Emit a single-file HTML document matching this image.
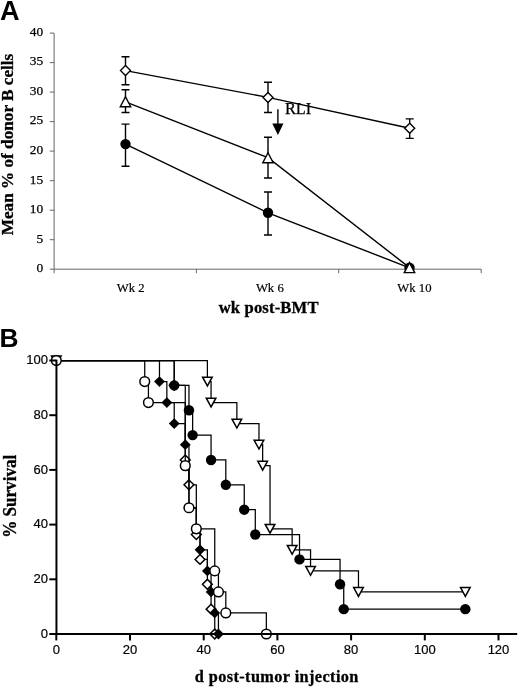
<!DOCTYPE html>
<html><head><meta charset="utf-8"><style>
html,body{margin:0;padding:0;background:#fff;}
body{width:520px;height:687px;overflow:hidden;font-family:"Liberation Serif",serif;}
svg{display:block;will-change:transform;}
</style></head><body>
<svg width="520" height="687" viewBox="0 0 520 687">
<g stroke="#666" stroke-width="1" fill="none">
<path d="M54.1 33.1 V269.2"/>
<path d="M49.8 269.2 H54.1"/>
<path d="M49.8 239.7 H54.1"/>
<path d="M49.8 210.2 H54.1"/>
<path d="M49.8 180.7 H54.1"/>
<path d="M49.8 151.1 H54.1"/>
<path d="M49.8 121.6 H54.1"/>
<path d="M49.8 92.1 H54.1"/>
<path d="M49.8 62.6 H54.1"/>
<path d="M49.8 33.1 H54.1"/>
<path d="M54.1 269.2 H481.2"/>
<path d="M54.1 269.2 V273.2"/>
<path d="M196.4 269.2 V273.2"/>
<path d="M338.7 269.2 V273.2"/>
<path d="M481.2 269.2 V273.2"/>
</g>
<g font-family="'Liberation Serif', serif" font-size="13.4" text-anchor="end" fill="#000" stroke="#000" stroke-width="0.25">
<text x="43.2" y="272.0">0</text>
<text x="43.2" y="242.5">5</text>
<text x="43.2" y="213.0">10</text>
<text x="43.2" y="183.5">15</text>
<text x="43.2" y="153.9">20</text>
<text x="43.2" y="124.4">25</text>
<text x="43.2" y="94.9">30</text>
<text x="43.2" y="65.4">35</text>
<text x="43.2" y="35.9">40</text>
</g>
<g font-family="'Liberation Serif', serif" font-size="12.7" fill="#000" stroke="#000" stroke-width="0.2">
<text x="116.8" y="292.2">Wk 2</text>
<text x="255.9" y="292.2">Wk 6</text>
<text x="397.3" y="292.2">Wk 10</text>
</g>
<text x="218.7" y="312.5" font-family="'Liberation Serif', serif" font-weight="bold" font-size="16.6" stroke="#000" stroke-width="0.3" textLength="99.8" lengthAdjust="spacing">wk post-BMT</text>
<text transform="translate(13.2 144.5) rotate(-90)" text-anchor="middle" font-family="'Liberation Serif', serif" font-weight="bold" font-size="17.2" stroke="#000" stroke-width="0.3">Mean % of donor B cells</text>
<text x="0.1" y="20.1" font-family="'Liberation Sans', sans-serif" font-weight="bold" font-size="27.1">A</text>
<text x="-0.6" y="346.5" font-family="'Liberation Sans', sans-serif" font-weight="bold" font-size="26.4">B</text>
<g stroke="#000" stroke-width="1.4" fill="none">
<polyline points="125.5,70.6 268.0,97.4 409.7,128.3"/>
<path d="M125.5 56.7 V84.8 M121.5 56.7 H129.5 M121.5 84.8 H129.5"/>
<path d="M268.0 82.3 V112.5 M264.0 82.3 H272.0 M264.0 112.5 H272.0"/>
<path d="M409.7 118.9 V138.4 M405.7 118.9 H413.7 M405.7 138.4 H413.7"/>
<polyline points="125.5,101.8 268.0,157.7 409.5,267.6"/>
<path d="M125.5 89.8 V112.5 M121.5 89.8 H129.5 M121.5 112.5 H129.5"/>
<path d="M268.0 137.3 V178.0 M264.0 137.3 H272.0 M264.0 178.0 H272.0"/>
<polyline points="125.5,144.1 268.0,212.8 409.5,267.8"/>
<path d="M125.5 124.1 V166.2 M121.5 124.1 H129.5 M121.5 166.2 H129.5"/>
<path d="M268.0 192.0 V235.0 M264.0 192.0 H272.0 M264.0 235.0 H272.0"/>
</g>
<circle cx="125.5" cy="144.1" r="5.2" fill="#000"/>
<circle cx="268.0" cy="212.8" r="5.2" fill="#000"/>
<circle cx="409.5" cy="267.8" r="5.2" fill="#000"/>
<path d="M125.5 96.8 L130.7 106.8 L120.3 106.8 Z" fill="#fff" stroke="#000" stroke-width="1.4" stroke-linejoin="miter"/>
<path d="M268.0 152.7 L273.2 162.7 L262.8 162.7 Z" fill="#fff" stroke="#000" stroke-width="1.4" stroke-linejoin="miter"/>
<path d="M409.5 262.6 L414.7 272.6 L404.3 272.6 Z" fill="#fff" stroke="#000" stroke-width="1.4" stroke-linejoin="miter"/>
<path d="M125.5 65.6 L130.5 70.6 L125.5 75.6 L120.5 70.6 Z" fill="#fff" stroke="#000" stroke-width="1.4"/>
<path d="M268.0 92.4 L273.0 97.4 L268.0 102.4 L263.0 97.4 Z" fill="#fff" stroke="#000" stroke-width="1.4"/>
<path d="M409.7 123.30000000000001 L414.7 128.3 L409.7 133.3 L404.7 128.3 Z" fill="#fff" stroke="#000" stroke-width="1.4"/>
<text x="284.9" y="113.8" font-family="'Liberation Serif', serif" font-size="16.3" stroke="#000" stroke-width="0.25">RLI</text>
<path d="M277.9 109.2 V125" stroke="#000" stroke-width="1.4"/>
<path d="M272.3 123.6 L283.5 123.6 L277.9 135 Z" fill="#000"/>
<path d="M56.30 360.50H174.22V385.36H185.27V459.95H188.96V484.82H196.33V534.55H200.01V559.41H207.38V584.27H211.07V609.14H214.75V634.00" fill="none" stroke="#000" stroke-width="1.25"/>
<path d="M174.22 380.46L179.12 385.36L174.22 390.26L169.32 385.36Z" fill="#fff" stroke="#000" stroke-width="1.5"/>
<path d="M185.27 455.05L190.17 459.95L185.27 464.85L180.37 459.95Z" fill="#fff" stroke="#000" stroke-width="1.5"/>
<path d="M188.96 479.92L193.86 484.82L188.96 489.72L184.06 484.82Z" fill="#fff" stroke="#000" stroke-width="1.5"/>
<path d="M196.33 529.65L201.23 534.55L196.33 539.45L191.43 534.55Z" fill="#fff" stroke="#000" stroke-width="1.5"/>
<path d="M200.01 554.51L204.91 559.41L200.01 564.31L195.11 559.41Z" fill="#fff" stroke="#000" stroke-width="1.5"/>
<path d="M207.38 579.37L212.28 584.27L207.38 589.17L202.48 584.27Z" fill="#fff" stroke="#000" stroke-width="1.5"/>
<path d="M211.07 604.24L215.97 609.14L211.07 614.04L206.17 609.14Z" fill="#fff" stroke="#000" stroke-width="1.5"/>
<path d="M214.75 629.10L219.66 634.00L214.75 638.90L209.85 634.00Z" fill="#fff" stroke="#000" stroke-width="1.5"/>
<path d="M56.30 360.50H159.48V381.54H166.85V402.58H174.22V423.62H185.27V444.65H188.96V507.77H196.33V528.81H200.01V549.85H207.38V570.88H211.07V591.92H214.75V612.96H218.44V634.00" fill="none" stroke="#000" stroke-width="1.25"/>
<path d="M159.48 376.14L164.88 381.54L159.48 386.94L154.08 381.54Z" fill="#000"/>
<path d="M166.85 397.18L172.25 402.58L166.85 407.98L161.45 402.58Z" fill="#000"/>
<path d="M174.22 418.22L179.62 423.62L174.22 429.02L168.82 423.62Z" fill="#000"/>
<path d="M185.27 439.25L190.67 444.65L185.27 450.05L179.87 444.65Z" fill="#000"/>
<path d="M188.96 502.37L194.36 507.77L188.96 513.17L183.56 507.77Z" fill="#000"/>
<path d="M196.33 523.41L201.73 528.81L196.33 534.21L190.93 528.81Z" fill="#000"/>
<path d="M200.01 544.45L205.41 549.85L200.01 555.25L194.61 549.85Z" fill="#000"/>
<path d="M207.38 565.48L212.78 570.88L207.38 576.28L201.98 570.88Z" fill="#000"/>
<path d="M211.07 586.52L216.47 591.92L211.07 597.32L205.67 591.92Z" fill="#000"/>
<path d="M214.75 607.56L220.16 612.96L214.75 618.36L209.35 612.96Z" fill="#000"/>
<path d="M218.44 628.60L223.84 634.00L218.44 639.40L213.04 634.00Z" fill="#000"/>
<path d="M56.30 360.50H174.22V385.36H188.96V410.23H192.64V435.09H211.07V459.95H225.81V484.82H244.24V509.68H255.29V534.55H299.51V559.41H340.05V584.27H343.73V609.14H465.33" fill="none" stroke="#000" stroke-width="1.25"/>
<circle cx="174.22" cy="385.36" r="5.2" fill="#000"/>
<circle cx="188.96" cy="410.23" r="5.2" fill="#000"/>
<circle cx="192.64" cy="435.09" r="5.2" fill="#000"/>
<circle cx="211.07" cy="459.95" r="5.2" fill="#000"/>
<circle cx="225.81" cy="484.82" r="5.2" fill="#000"/>
<circle cx="244.24" cy="509.68" r="5.2" fill="#000"/>
<circle cx="255.29" cy="534.55" r="5.2" fill="#000"/>
<circle cx="299.51" cy="559.41" r="5.2" fill="#000"/>
<circle cx="340.05" cy="584.27" r="5.2" fill="#000"/>
<circle cx="343.73" cy="609.14" r="5.2" fill="#000"/>
<circle cx="465.33" cy="609.14" r="5.2" fill="#000"/>
<path d="M56.30 360.50H207.38V381.54H211.07V402.58H236.87V423.62H258.98V444.65H262.66V465.69H270.03V528.81H292.14V549.85H310.56V570.88H358.47V591.92H465.33" fill="none" stroke="#000" stroke-width="1.25"/>
<path d="M51.50 356.10H61.10L56.30 364.90Z" fill="#fff" stroke="#000" stroke-width="1.5" stroke-linejoin="miter"/>
<path d="M202.58 377.14H212.19L207.38 385.94Z" fill="#fff" stroke="#000" stroke-width="1.5" stroke-linejoin="miter"/>
<path d="M206.27 398.18H215.87L211.07 406.98Z" fill="#fff" stroke="#000" stroke-width="1.5" stroke-linejoin="miter"/>
<path d="M232.06 419.22H241.67L236.87 428.02Z" fill="#fff" stroke="#000" stroke-width="1.5" stroke-linejoin="miter"/>
<path d="M254.18 440.25H263.78L258.98 449.05Z" fill="#fff" stroke="#000" stroke-width="1.5" stroke-linejoin="miter"/>
<path d="M257.86 461.29H267.46L262.66 470.09Z" fill="#fff" stroke="#000" stroke-width="1.5" stroke-linejoin="miter"/>
<path d="M265.23 524.41H274.83L270.03 533.21Z" fill="#fff" stroke="#000" stroke-width="1.5" stroke-linejoin="miter"/>
<path d="M287.34 545.45H296.94L292.14 554.25Z" fill="#fff" stroke="#000" stroke-width="1.5" stroke-linejoin="miter"/>
<path d="M305.76 566.48H315.37L310.56 575.28Z" fill="#fff" stroke="#000" stroke-width="1.5" stroke-linejoin="miter"/>
<path d="M353.67 587.52H363.27L358.47 596.32Z" fill="#fff" stroke="#000" stroke-width="1.5" stroke-linejoin="miter"/>
<path d="M460.53 587.52H470.13L465.33 596.32Z" fill="#fff" stroke="#000" stroke-width="1.5" stroke-linejoin="miter"/>
<path d="M56.30 360.50H144.74V381.54H148.43V402.58H185.27V465.69H188.96V507.77H196.33V528.81H214.75V570.88H218.44V591.92H225.81V612.96H266.34V634.00" fill="none" stroke="#000" stroke-width="1.25"/>
<circle cx="56.30" cy="360.50" r="4.85" fill="#fff" stroke="#000" stroke-width="1.5"/>
<circle cx="144.74" cy="381.54" r="4.85" fill="#fff" stroke="#000" stroke-width="1.5"/>
<circle cx="148.43" cy="402.58" r="4.85" fill="#fff" stroke="#000" stroke-width="1.5"/>
<circle cx="185.27" cy="465.69" r="4.85" fill="#fff" stroke="#000" stroke-width="1.5"/>
<circle cx="188.96" cy="507.77" r="4.85" fill="#fff" stroke="#000" stroke-width="1.5"/>
<circle cx="196.33" cy="528.81" r="4.85" fill="#fff" stroke="#000" stroke-width="1.5"/>
<circle cx="214.75" cy="570.88" r="4.85" fill="#fff" stroke="#000" stroke-width="1.5"/>
<circle cx="218.44" cy="591.92" r="4.85" fill="#fff" stroke="#000" stroke-width="1.5"/>
<circle cx="225.81" cy="612.96" r="4.85" fill="#fff" stroke="#000" stroke-width="1.5"/>
<circle cx="266.34" cy="634.00" r="4.85" fill="#fff" stroke="#000" stroke-width="1.5"/>
<g stroke="#000" stroke-width="2" fill="none">
<path d="M56.45 359.7 V635.0"/>
<path d="M55.45 634.0 H517.2"/>
<path d="M49.3 634.0 H56.45"/>
<path d="M49.3 579.3 H56.45"/>
<path d="M49.3 524.6 H56.45"/>
<path d="M49.3 469.9 H56.45"/>
<path d="M49.3 415.2 H56.45"/>
<path d="M49.3 360.5 H56.45"/>
<path d="M56.3 634.0 V640.4"/>
<path d="M130.0 634.0 V640.4"/>
<path d="M203.7 634.0 V640.4"/>
<path d="M277.4 634.0 V640.4"/>
<path d="M351.1 634.0 V640.4"/>
<path d="M424.8 634.0 V640.4"/>
<path d="M498.5 634.0 V640.4"/>
</g>
<g font-family="'Liberation Sans', sans-serif" font-size="13" fill="#000" text-anchor="end" stroke="#000" stroke-width="0.2">
<text x="48.0" y="637.6">0</text>
<text x="48.0" y="582.9">20</text>
<text x="48.0" y="528.2">40</text>
<text x="48.0" y="473.5">60</text>
<text x="48.0" y="418.8">80</text>
<text x="48.0" y="364.1">100</text>
</g>
<g font-family="'Liberation Sans', sans-serif" font-size="13" fill="#000" text-anchor="middle" stroke="#000" stroke-width="0.2">
<text x="56.3" y="654.3">0</text>
<text x="130.0" y="654.3">20</text>
<text x="203.7" y="654.3">40</text>
<text x="277.4" y="654.3">60</text>
<text x="351.1" y="654.3">80</text>
<text x="424.8" y="654.3">100</text>
<text x="498.5" y="654.3">120</text>
</g>
<text x="194.8" y="681.7" font-family="'Liberation Serif', serif" font-weight="bold" font-size="16.3" stroke="#000" stroke-width="0.3" textLength="163.6" lengthAdjust="spacing">d post-tumor injection</text>
<text transform="translate(15.6 496.3) rotate(-90) scale(1 1.07)" text-anchor="middle" font-family="'Liberation Serif', serif" font-weight="bold" font-size="17.1" stroke="#000" stroke-width="0.3">% Survival</text>
</svg>
</body></html>
